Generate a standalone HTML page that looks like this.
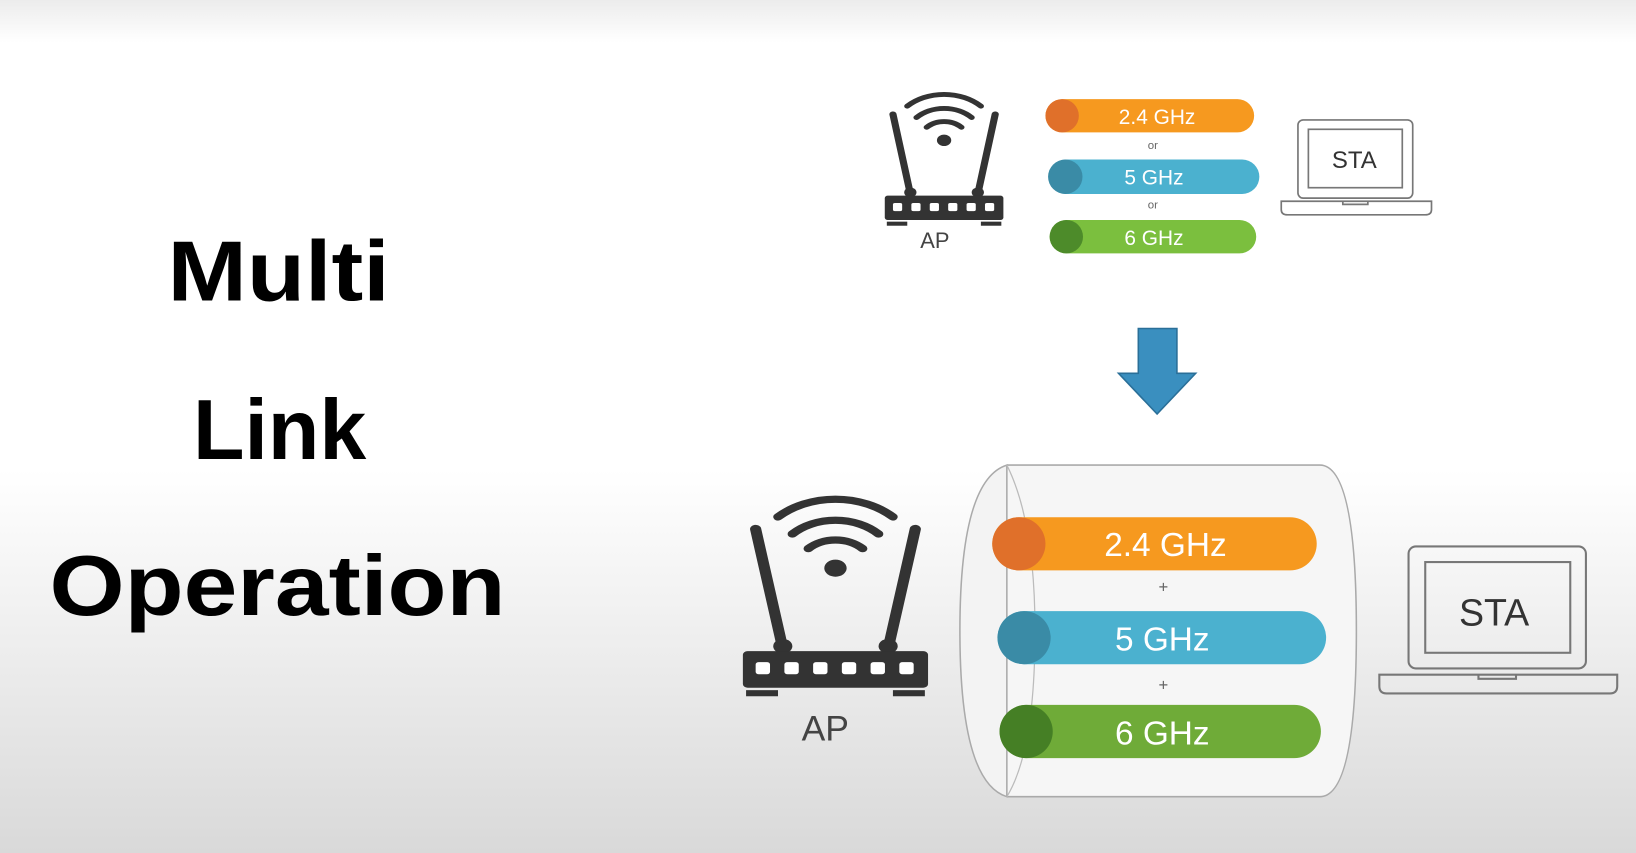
<!DOCTYPE html>
<html><head><meta charset="utf-8"><style>
html,body{margin:0;padding:0;}
body{width:1636px;height:853px;overflow:hidden;}
svg{display:block}
text{font-family:"Liberation Sans",sans-serif;}
</style></head><body>
<svg width="1636" height="853" viewBox="0 0 1568 818" preserveAspectRatio="none">
<defs>
<linearGradient id="bg" x1="0" y1="0" x2="0" y2="1">
<stop offset="0" stop-color="#ececec"/>
<stop offset="0.05" stop-color="#ffffff"/>
<stop offset="0.55" stop-color="#ffffff"/>
<stop offset="1" stop-color="#d9d9d9"/>
</linearGradient>
<g id="router">
<path d="M8,20 L24,112" stroke="#333" stroke-width="7" stroke-linecap="round"/>
<path d="M108,20 L92,112" stroke="#333" stroke-width="7" stroke-linecap="round"/>
<circle cx="25" cy="116" r="6" fill="#333"/>
<circle cx="91" cy="116" r="6" fill="#333"/>
<path d="M22,10 A52,52 0 0 1 94,10" stroke="#333" stroke-width="6" fill="none" stroke-linecap="round"/>
<path d="M31,24 A38,38 0 0 1 85,24" stroke="#333" stroke-width="6" fill="none" stroke-linecap="round"/>
<path d="M41,36 A24,24 0 0 1 75,36" stroke="#333" stroke-width="6" fill="none" stroke-linecap="round"/>
<circle cx="58" cy="52" r="7" fill="#333"/>
<rect x="0" y="120" width="116" height="30" rx="3" fill="#333"/>
<g fill="#fff"><rect x="8" y="129" width="9" height="10" rx="2"/><rect x="26" y="129" width="9" height="10" rx="2"/><rect x="44" y="129" width="9" height="10" rx="2"/><rect x="62" y="129" width="9" height="10" rx="2"/><rect x="80" y="129" width="9" height="10" rx="2"/><rect x="98" y="129" width="9" height="10" rx="2"/></g>
<rect x="2" y="152" width="20" height="5" fill="#333"/>
<rect x="94" y="152" width="20" height="5" fill="#333"/>
</g>
</defs>
<rect width="1568" height="818" fill="url(#bg)"/>

<g font-weight="bold" fill="#000" text-anchor="middle">
<text x="267" y="288" font-size="82" textLength="213" lengthAdjust="spacingAndGlyphs">Multi</text>
<text x="268" y="440" font-size="82" textLength="166" lengthAdjust="spacingAndGlyphs">Link</text>
<text x="266" y="590" font-size="82" textLength="437" lengthAdjust="spacingAndGlyphs">Operation</text>
</g>

<!-- top diagram -->
<use href="#router" transform="translate(848,94) scale(0.98,0.78)"/>
<text x="896" y="238" font-size="21" fill="#444" text-anchor="middle">AP</text>
<rect x="1002" y="95" width="200" height="32" rx="16" fill="#f6991f"/>
<circle cx="1018" cy="111" r="16" fill="#e0702a"/>
<text x="1109" y="119" font-size="20" fill="#fff" text-anchor="middle">2.4 GHz</text>
<text x="1105" y="143" font-size="11" fill="#666" text-anchor="middle">or</text>
<rect x="1005" y="153" width="202" height="33" rx="16.5" fill="#4bb1cf"/>
<circle cx="1021" cy="169.5" r="16.5" fill="#3a8ba6"/>
<text x="1106" y="177" font-size="20" fill="#fff" text-anchor="middle">5 GHz</text>
<text x="1105" y="200" font-size="11" fill="#666" text-anchor="middle">or</text>
<rect x="1006" y="211" width="198" height="32" rx="16" fill="#7bbf3e"/>
<circle cx="1022" cy="227" r="16" fill="#4d8b2a"/>
<text x="1106" y="235" font-size="20" fill="#fff" text-anchor="middle">6 GHz</text>
<g fill="none" stroke="#777" stroke-width="1.6">
<rect x="1244" y="115" width="110" height="75" rx="5"/>
<rect x="1254" y="124" width="90" height="56"/>
<path d="M1228,193 H1372 V201 Q1372,206 1366,206 H1234 Q1228,206 1228,201 Z"/>
<path d="M1287,193 v3 h24 v-3"/>
</g>
<text x="1298" y="161" font-size="23" fill="#333" text-anchor="middle">STA</text>

<!-- arrow -->
<path d="M1091,315 H1128 V358 H1146 L1109,397 L1072,358 H1091 Z" fill="#3a8fbf" stroke="#2a6f98" stroke-width="1.5"/>

<!-- bottom diagram -->
<use href="#router" transform="translate(712,484) scale(1.53,1.17)"/>
<text x="791" y="710" font-size="34" fill="#444" text-anchor="middle">AP</text>

<path d="M965,446 H1265 Q1300,446 1300,605 Q1300,764 1265,764 H965" fill="#f6f6f6" stroke="#aaa" stroke-width="1.5"/>
<path d="M965,446 Q920,460 920,605 Q920,750 965,764 Z" fill="#f3f3f3" stroke="#aaa" stroke-width="1.5"/>
<path d="M965,446 Q992,500 992,605 Q992,720 965,764" fill="none" stroke="#bbb" stroke-width="1.2"/>

<rect x="951" y="496" width="311" height="51" rx="25.5" fill="#f6991f"/>
<circle cx="976.5" cy="521.5" r="25.5" fill="#e0702a"/>
<text x="1117" y="533" font-size="32" fill="#fff" text-anchor="middle">2.4 GHz</text>
<text x="1115" y="568" font-size="16" fill="#666" text-anchor="middle">+</text>
<rect x="956" y="586" width="315" height="51" rx="25.5" fill="#4bb1cf"/>
<circle cx="981.5" cy="611.5" r="25.5" fill="#3a8ba6"/>
<text x="1114" y="624" font-size="32" fill="#fff" text-anchor="middle">5 GHz</text>
<text x="1115" y="662" font-size="16" fill="#666" text-anchor="middle">+</text>
<rect x="958" y="676" width="308" height="51" rx="25.5" fill="#6fab38"/>
<circle cx="983.5" cy="701.5" r="25.5" fill="#457f25"/>
<text x="1114" y="714" font-size="32" fill="#fff" text-anchor="middle">6 GHz</text>

<g fill="none" stroke="#777" stroke-width="2">
<rect x="1350" y="524" width="170" height="117" rx="7"/>
<rect x="1366" y="539" width="139" height="87"/>
<path d="M1322,647 H1550 V658 Q1550,665 1543,665 H1329 Q1322,665 1322,658 Z"/>
<path d="M1417,647 v4 h36 v-4"/>
</g>
<text x="1432" y="600" font-size="36" fill="#333" text-anchor="middle">STA</text>
</svg>
</body></html>
